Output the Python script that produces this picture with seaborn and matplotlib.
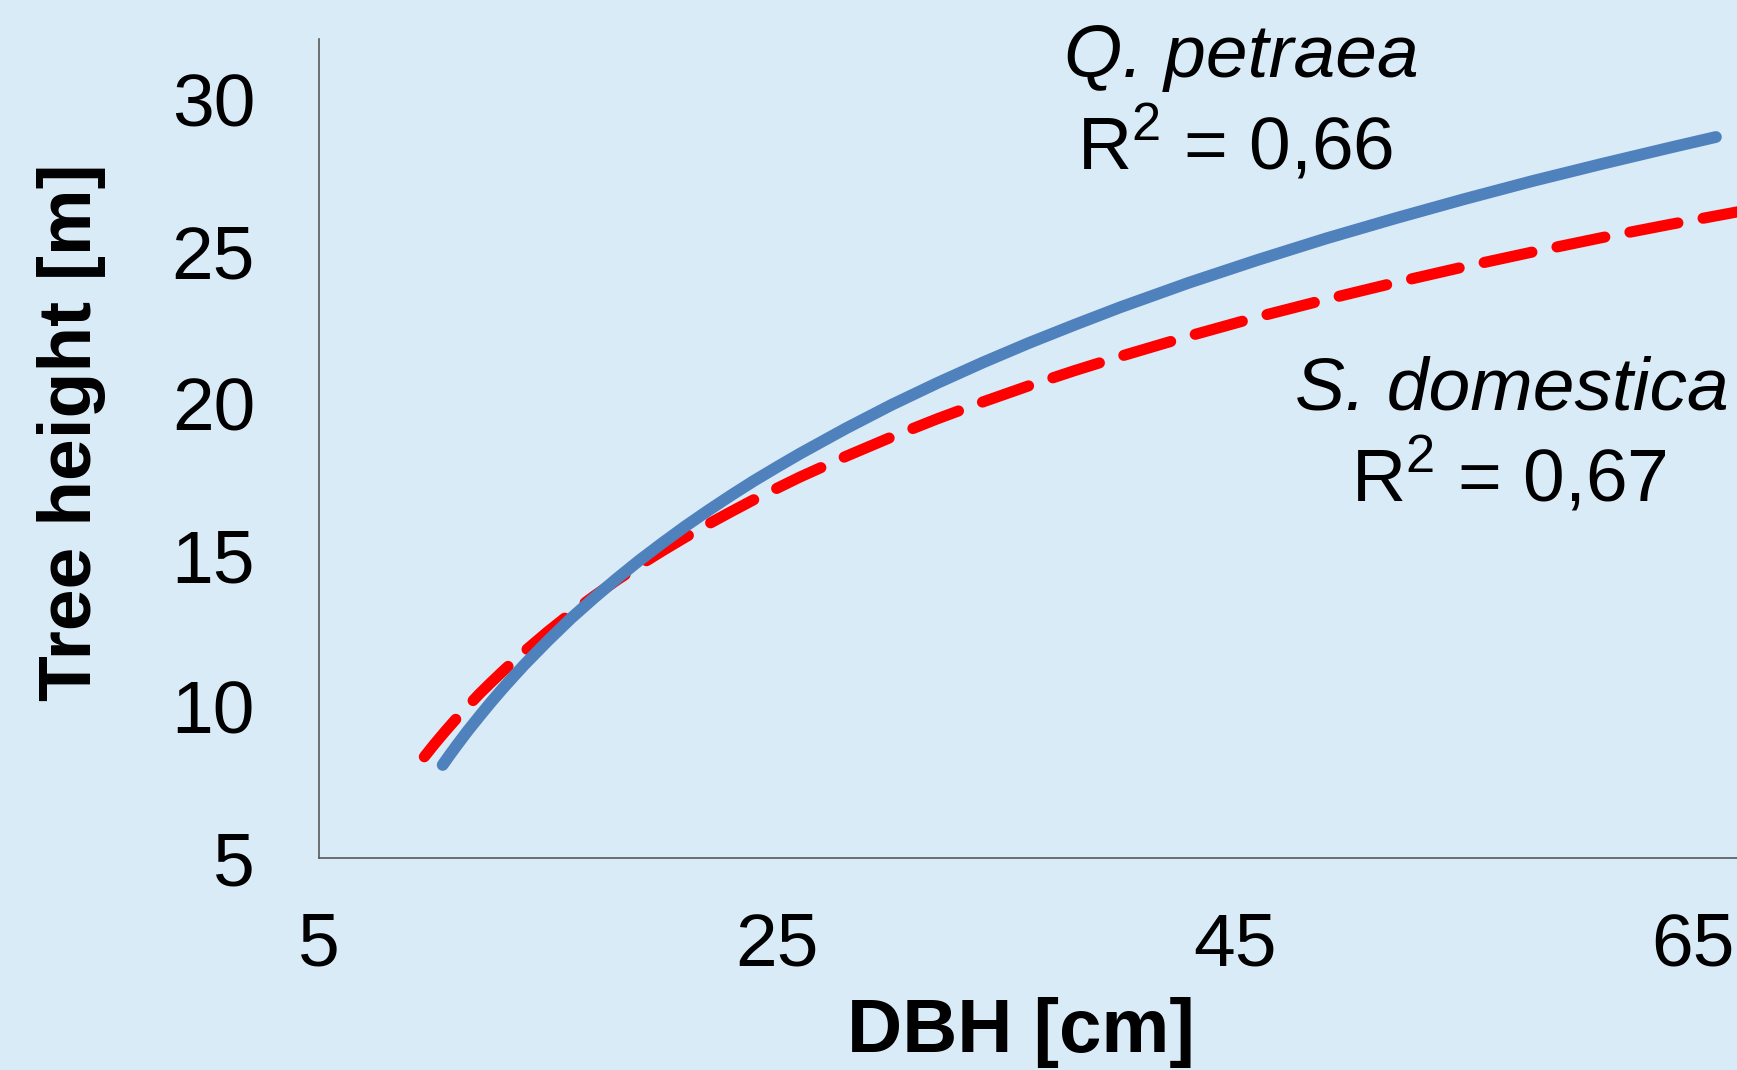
import numpy as np
import pandas as pd
import matplotlib
matplotlib.use("Agg")
import matplotlib.pyplot as plt
import seaborn as sns

# values
dbh_petraea = [10.4, 10.7, 11, 11.5, 12, 12.5, 13, 13.5, 14, 15, 16, 17, 18, 19,
               20, 21, 22, 23, 24, 25, 26, 28, 30, 32, 34, 36, 38, 40, 43, 46,
               49, 52, 55, 58, 61, 64, 66]
h_petraea = [8.08, 8.40, 8.71, 9.21, 9.68, 10.14, 10.58, 11.00, 11.41, 12.18,
             12.91, 13.58, 14.22, 14.83, 15.40, 15.95, 16.47, 16.97, 17.45,
             17.90, 18.34, 19.17, 19.95, 20.67, 21.35, 21.99, 22.59, 23.17,
             23.98, 24.73, 25.44, 26.10, 26.73, 27.33, 27.89, 28.43, 28.78]

dbh_domestica = [9.6, 10, 10.5, 11, 11.5, 12, 12.5, 13, 13.5, 14, 15, 16, 17, 18,
                 19, 20, 21, 22, 23, 24, 25, 26, 28, 30, 32, 34, 36, 38, 40, 43,
                 46, 49, 52, 55, 58, 61, 64, 67]
h_domestica = [8.35, 8.73, 9.18, 9.61, 10.02, 10.42, 10.79, 11.15, 11.50, 11.84,
               12.48, 13.08, 13.64, 14.17, 14.67, 15.14, 15.59, 16.02, 16.43,
               16.83, 17.20, 17.57, 18.25, 18.89, 19.49, 20.05, 20.58, 21.08,
               21.55, 22.22, 22.85, 23.43, 23.98, 24.50, 24.99, 25.46, 25.90,
               26.32]

x_ticks = [5, 25, 45, 65]
y_ticks = [5, 10, 15, 20, 25, 30]

bg = "#DAEBF8"
blue = "#4F81BD"
red = "#FF0000"
axis_col = "#595959"

sns.set_theme(style="white")
plt.rcParams["font.family"] = ["Liberation Sans", "DejaVu Sans"]
plt.rcParams["mathtext.fontset"] = "custom"
plt.rcParams["mathtext.rm"] = "Liberation Sans"
plt.rcParams["text.color"] = "black"

fig = plt.figure(figsize=(17.37, 10.70), dpi=100, facecolor=bg)
ax = fig.add_axes([0.18365, 0.19776, 0.81635, 0.7655])
ax.set_facecolor(bg)

df_p = pd.DataFrame({"dbh": dbh_petraea, "h": h_petraea})
df_d = pd.DataFrame({"dbh": dbh_domestica, "h": h_domestica})

sns.lineplot(data=df_d, x="dbh", y="h", ax=ax, color=red, linewidth=8,
             linestyle=(0, (4.4, 2.3)), dash_capstyle="round")
sns.lineplot(data=df_p, x="dbh", y="h", ax=ax, color=blue, linewidth=8.5,
             solid_capstyle="round", solid_joinstyle="round")

ax.set_xlim(5, 66.92)
ax.set_ylim(5, 32)
ax.set_xticks(x_ticks)
ax.set_yticks(y_ticks)
ax.set_xlabel("")
ax.set_ylabel("")

for s in ["top", "right"]:
    ax.spines[s].set_visible(False)
for s in ["left", "bottom"]:
    ax.spines[s].set_color(axis_col)
    ax.spines[s].set_linewidth(1.2)

ax.tick_params(axis="both", direction="out", length=16, width=1.0,
               color=axis_col, labelsize=54, labelcolor="black")
ax.tick_params(axis="y", pad=30)
ax.tick_params(axis="x", pad=22)

fig.text(72 / 1737, 1 - 432 / 1070, "Tree height [m]", rotation=90,
         ha="center", va="center", fontsize=54, fontweight="bold", color="black")
fig.text(1021 / 1737, 18 / 1070, "DBH [cm]", ha="center", va="baseline",
         fontsize=55, fontweight="bold", color="black")

fig.text(1241 / 1737, 1 - 58 / 1070, "Q. petraea", ha="center", va="center",
         fontsize=54, style="italic", color="black")
fig.text(1235 / 1737, 1 - 144 / 1070, r"R$^\mathregular{2}$ = 0,66", ha="center",
         va="center", fontsize=54, color="black")
fig.text(1512 / 1737, 1 - 390 / 1070, "S. domestica", ha="center", va="center",
         fontsize=54, style="italic", color="black")
fig.text(1509 / 1737, 1 - 476 / 1070, r"R$^\mathregular{2}$ = 0,67", ha="center",
         va="center", fontsize=54, color="black")

fig.savefig("out.png", dpi=100, facecolor=bg)
